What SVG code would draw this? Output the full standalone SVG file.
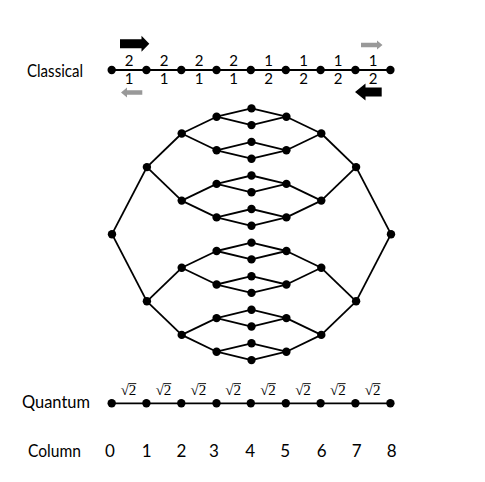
<svg xmlns="http://www.w3.org/2000/svg" xmlns:xlink="http://www.w3.org/1999/xlink" width="485" height="482" viewBox="0 0 485 482">
<style>
.n{fill:#000}
.e{stroke:#000;stroke-width:1.8;fill:none}
.lbl{font-family:Lato,"Liberation Sans",sans-serif;font-size:17px;fill:#000}
.w{font-family:Lato,"Liberation Sans",sans-serif;font-size:15px;fill:#000;text-anchor:middle}
.q{font-family:"Liberation Serif",serif;font-size:15px;fill:#000;text-anchor:middle}
.ob{stroke:#000;stroke-width:0.9}
.col{font-family:Lato,"Liberation Sans",sans-serif;font-size:17px;fill:#000;text-anchor:middle}
</style>
<rect width="485" height="482" fill="#fff"/>
<g id="connectors">
<g id="classical-edges">
<line class="e" x1="111.5" y1="70" x2="390.5" y2="70"/>
</g>
<g id="quantum-edges">
<line class="e" x1="111.5" y1="403.3" x2="390.5" y2="403.3"/>
</g>
<g id="left-edges">
<line class="e" x1="112" y1="234.2" x2="146.9" y2="167.1"/>
<line class="e" x1="112" y1="234.2" x2="146.9" y2="301.3"/>
<line class="e" x1="146.9" y1="167.1" x2="181.7" y2="133.5"/>
<line class="e" x1="146.9" y1="167.1" x2="181.7" y2="200.6"/>
<line class="e" x1="146.9" y1="301.3" x2="181.7" y2="267.8"/>
<line class="e" x1="146.9" y1="301.3" x2="181.7" y2="334.9"/>
<line class="e" x1="181.7" y1="133.5" x2="216.6" y2="116.7"/>
<line class="e" x1="181.7" y1="133.5" x2="216.6" y2="150.3"/>
<line class="e" x1="181.7" y1="200.6" x2="216.6" y2="183.9"/>
<line class="e" x1="181.7" y1="200.6" x2="216.6" y2="217.4"/>
<line class="e" x1="181.7" y1="267.8" x2="216.6" y2="251.0"/>
<line class="e" x1="181.7" y1="267.8" x2="216.6" y2="284.5"/>
<line class="e" x1="181.7" y1="334.9" x2="216.6" y2="318.1"/>
<line class="e" x1="181.7" y1="334.9" x2="216.6" y2="351.7"/>
<line class="e" x1="216.6" y1="116.7" x2="251.5" y2="108.4"/>
<line class="e" x1="216.6" y1="116.7" x2="251.5" y2="125.1"/>
<line class="e" x1="216.6" y1="150.3" x2="251.5" y2="141.9"/>
<line class="e" x1="216.6" y1="150.3" x2="251.5" y2="158.7"/>
<line class="e" x1="216.6" y1="183.9" x2="251.5" y2="175.5"/>
<line class="e" x1="216.6" y1="183.9" x2="251.5" y2="192.3"/>
<line class="e" x1="216.6" y1="217.4" x2="251.5" y2="209.0"/>
<line class="e" x1="216.6" y1="217.4" x2="251.5" y2="225.8"/>
<line class="e" x1="216.6" y1="251.0" x2="251.5" y2="242.6"/>
<line class="e" x1="216.6" y1="251.0" x2="251.5" y2="259.4"/>
<line class="e" x1="216.6" y1="284.5" x2="251.5" y2="276.2"/>
<line class="e" x1="216.6" y1="284.5" x2="251.5" y2="292.9"/>
<line class="e" x1="216.6" y1="318.1" x2="251.5" y2="309.7"/>
<line class="e" x1="216.6" y1="318.1" x2="251.5" y2="326.5"/>
<line class="e" x1="216.6" y1="351.7" x2="251.5" y2="343.3"/>
<line class="e" x1="216.6" y1="351.7" x2="251.5" y2="360.1"/>
</g>
<use id="right-edges" xlink:href="#left-edges" href="#left-edges" transform="matrix(-1,0,0,1,503,0)"/>
</g>
<g id="arrows">
<polygon fill="#000" points="120,39.3 141.5,39.3 141.5,35.7 149.3,43.7 141.5,51.7 141.5,48.3 120,48.3"/>
<polygon fill="#999" points="142.3,90.2 127,90.2 127,87.5 121,92.5 127,97.5 127,94.8 142.3,94.8"/>
<polygon fill="#999" points="361,42.8 377,42.8 377,40.5 382.5,45 377,49.5 377,47.2 361,47.2"/>
<polygon fill="#000" points="381.7,87.5 365.5,87.5 365.5,83.5 355,92 365.5,100.5 365.5,96.5 381.7,96.5"/>
</g>
<g id="labels">
<text class="lbl" x="27" y="76.5" textLength="56" lengthAdjust="spacingAndGlyphs">Classical</text>
<text class="lbl" x="22" y="407.5" textLength="68" lengthAdjust="spacingAndGlyphs">Quantum</text>
<text class="lbl" x="28" y="457" textLength="53" lengthAdjust="spacingAndGlyphs">Column</text>
</g>
<g id="classical-weights">
<text class="w" x="129" y="66">2</text><text class="w" x="129" y="83.5">1</text>
<text class="w" x="164" y="66">2</text><text class="w" x="164" y="83.5">1</text>
<text class="w" x="199" y="66">2</text><text class="w" x="199" y="83.5">1</text>
<text class="w" x="233.5" y="66">2</text><text class="w" x="233.5" y="83.5">1</text>
<text class="w" x="268.5" y="66">1</text><text class="w" x="268.5" y="83.5">2</text>
<text class="w" x="303.5" y="66">1</text><text class="w" x="303.5" y="83.5">2</text>
<text class="w" x="338" y="66">1</text><text class="w" x="338" y="83.5">2</text>
<text class="w" x="373" y="66">1</text><text class="w" x="373" y="83.5">2</text>
</g>
<g id="quantum-weights">
<text class="q" x="128.5" y="395">√2</text><line class="ob" x1="128.8" y1="383.6" x2="136.3" y2="383.6"/>
<text class="q" x="163.5" y="395">√2</text><line class="ob" x1="163.8" y1="383.6" x2="171.3" y2="383.6"/>
<text class="q" x="198.3" y="395">√2</text><line class="ob" x1="198.6" y1="383.6" x2="206.1" y2="383.6"/>
<text class="q" x="233.2" y="395">√2</text><line class="ob" x1="233.5" y1="383.6" x2="241" y2="383.6"/>
<text class="q" x="268" y="395">√2</text><line class="ob" x1="268.3" y1="383.6" x2="275.8" y2="383.6"/>
<text class="q" x="303" y="395">√2</text><line class="ob" x1="303.3" y1="383.6" x2="310.8" y2="383.6"/>
<text class="q" x="337.8" y="395">√2</text><line class="ob" x1="338.1" y1="383.6" x2="345.6" y2="383.6"/>
<text class="q" x="372.7" y="395">√2</text><line class="ob" x1="373" y1="383.6" x2="380.5" y2="383.6"/>
</g>
<g id="column-numbers">
<text class="col" x="110" y="457">0</text>
<text class="col" x="146.8" y="457">1</text>
<text class="col" x="181.5" y="457">2</text>
<text class="col" x="214" y="457">3</text>
<text class="col" x="250.3" y="457">4</text>
<text class="col" x="285.3" y="457">5</text>
<text class="col" x="321.7" y="457">6</text>
<text class="col" x="356.7" y="457">7</text>
<text class="col" x="391.7" y="457">8</text>
</g>
<g id="classical-nodes">
<g id="c0"><circle class="n" cx="111.7" cy="70" r="4.2"/></g>
<g id="c1"><circle class="n" cx="146.4" cy="70" r="4.2"/></g>
<g id="c2"><circle class="n" cx="181.3" cy="70" r="4.2"/></g>
<g id="c3"><circle class="n" cx="216.5" cy="70" r="4.2"/></g>
<g id="c4"><circle class="n" cx="250.8" cy="70" r="4.2"/></g>
<g id="c5"><circle class="n" cx="285.8" cy="70" r="4.2"/></g>
<g id="c6"><circle class="n" cx="320.6" cy="70" r="4.2"/></g>
<g id="c7"><circle class="n" cx="355.4" cy="70" r="4.2"/></g>
<g id="c8"><circle class="n" cx="390.4" cy="70" r="4.2"/></g>
</g>
<g id="quantum-nodes">
<g id="q0"><circle class="n" cx="111.7" cy="403.3" r="4.2"/></g>
<g id="q1"><circle class="n" cx="146.4" cy="403.3" r="4.2"/></g>
<g id="q2"><circle class="n" cx="181.3" cy="403.3" r="4.2"/></g>
<g id="q3"><circle class="n" cx="216.5" cy="403.3" r="4.2"/></g>
<g id="q4"><circle class="n" cx="250.8" cy="403.3" r="4.2"/></g>
<g id="q5"><circle class="n" cx="285.8" cy="403.3" r="4.2"/></g>
<g id="q6"><circle class="n" cx="320.6" cy="403.3" r="4.2"/></g>
<g id="q7"><circle class="n" cx="355.4" cy="403.3" r="4.2"/></g>
<g id="q8"><circle class="n" cx="390.4" cy="403.3" r="4.2"/></g>
</g>
<g id="tree-nodes">
<g id="g0-0"><circle class="n" cx="112" cy="234.2" r="4.2"/></g>
<g id="g1-0"><circle class="n" cx="146.9" cy="167.1" r="4.2"/></g>
<g id="g1-1"><circle class="n" cx="146.9" cy="301.3" r="4.2"/></g>
<g id="g2-0"><circle class="n" cx="181.7" cy="133.5" r="4.2"/></g>
<g id="g2-1"><circle class="n" cx="181.7" cy="200.6" r="4.2"/></g>
<g id="g2-2"><circle class="n" cx="181.7" cy="267.8" r="4.2"/></g>
<g id="g2-3"><circle class="n" cx="181.7" cy="334.9" r="4.2"/></g>
<g id="g3-0"><circle class="n" cx="216.6" cy="116.7" r="4.2"/></g>
<g id="g3-1"><circle class="n" cx="216.6" cy="150.3" r="4.2"/></g>
<g id="g3-2"><circle class="n" cx="216.6" cy="183.9" r="4.2"/></g>
<g id="g3-3"><circle class="n" cx="216.6" cy="217.4" r="4.2"/></g>
<g id="g3-4"><circle class="n" cx="216.6" cy="251.0" r="4.2"/></g>
<g id="g3-5"><circle class="n" cx="216.6" cy="284.5" r="4.2"/></g>
<g id="g3-6"><circle class="n" cx="216.6" cy="318.1" r="4.2"/></g>
<g id="g3-7"><circle class="n" cx="216.6" cy="351.7" r="4.2"/></g>
<g id="g4-0"><circle class="n" cx="251.5" cy="108.4" r="4.2"/></g>
<g id="g4-1"><circle class="n" cx="251.5" cy="125.1" r="4.2"/></g>
<g id="g4-2"><circle class="n" cx="251.5" cy="141.9" r="4.2"/></g>
<g id="g4-3"><circle class="n" cx="251.5" cy="158.7" r="4.2"/></g>
<g id="g4-4"><circle class="n" cx="251.5" cy="175.5" r="4.2"/></g>
<g id="g4-5"><circle class="n" cx="251.5" cy="192.3" r="4.2"/></g>
<g id="g4-6"><circle class="n" cx="251.5" cy="209.0" r="4.2"/></g>
<g id="g4-7"><circle class="n" cx="251.5" cy="225.8" r="4.2"/></g>
<g id="g4-8"><circle class="n" cx="251.5" cy="242.6" r="4.2"/></g>
<g id="g4-9"><circle class="n" cx="251.5" cy="259.4" r="4.2"/></g>
<g id="g4-10"><circle class="n" cx="251.5" cy="276.2" r="4.2"/></g>
<g id="g4-11"><circle class="n" cx="251.5" cy="292.9" r="4.2"/></g>
<g id="g4-12"><circle class="n" cx="251.5" cy="309.7" r="4.2"/></g>
<g id="g4-13"><circle class="n" cx="251.5" cy="326.5" r="4.2"/></g>
<g id="g4-14"><circle class="n" cx="251.5" cy="343.3" r="4.2"/></g>
<g id="g4-15"><circle class="n" cx="251.5" cy="360.1" r="4.2"/></g>
<g id="g5-0"><circle class="n" cx="286.4" cy="116.7" r="4.2"/></g>
<g id="g5-1"><circle class="n" cx="286.4" cy="150.3" r="4.2"/></g>
<g id="g5-2"><circle class="n" cx="286.4" cy="183.9" r="4.2"/></g>
<g id="g5-3"><circle class="n" cx="286.4" cy="217.4" r="4.2"/></g>
<g id="g5-4"><circle class="n" cx="286.4" cy="251.0" r="4.2"/></g>
<g id="g5-5"><circle class="n" cx="286.4" cy="284.5" r="4.2"/></g>
<g id="g5-6"><circle class="n" cx="286.4" cy="318.1" r="4.2"/></g>
<g id="g5-7"><circle class="n" cx="286.4" cy="351.7" r="4.2"/></g>
<g id="g6-0"><circle class="n" cx="321.3" cy="133.5" r="4.2"/></g>
<g id="g6-1"><circle class="n" cx="321.3" cy="200.6" r="4.2"/></g>
<g id="g6-2"><circle class="n" cx="321.3" cy="267.8" r="4.2"/></g>
<g id="g6-3"><circle class="n" cx="321.3" cy="334.9" r="4.2"/></g>
<g id="g7-0"><circle class="n" cx="356.1" cy="167.1" r="4.2"/></g>
<g id="g7-1"><circle class="n" cx="356.1" cy="301.3" r="4.2"/></g>
<g id="g8-0"><circle class="n" cx="391" cy="234.2" r="4.2"/></g>
</g>
</svg>
